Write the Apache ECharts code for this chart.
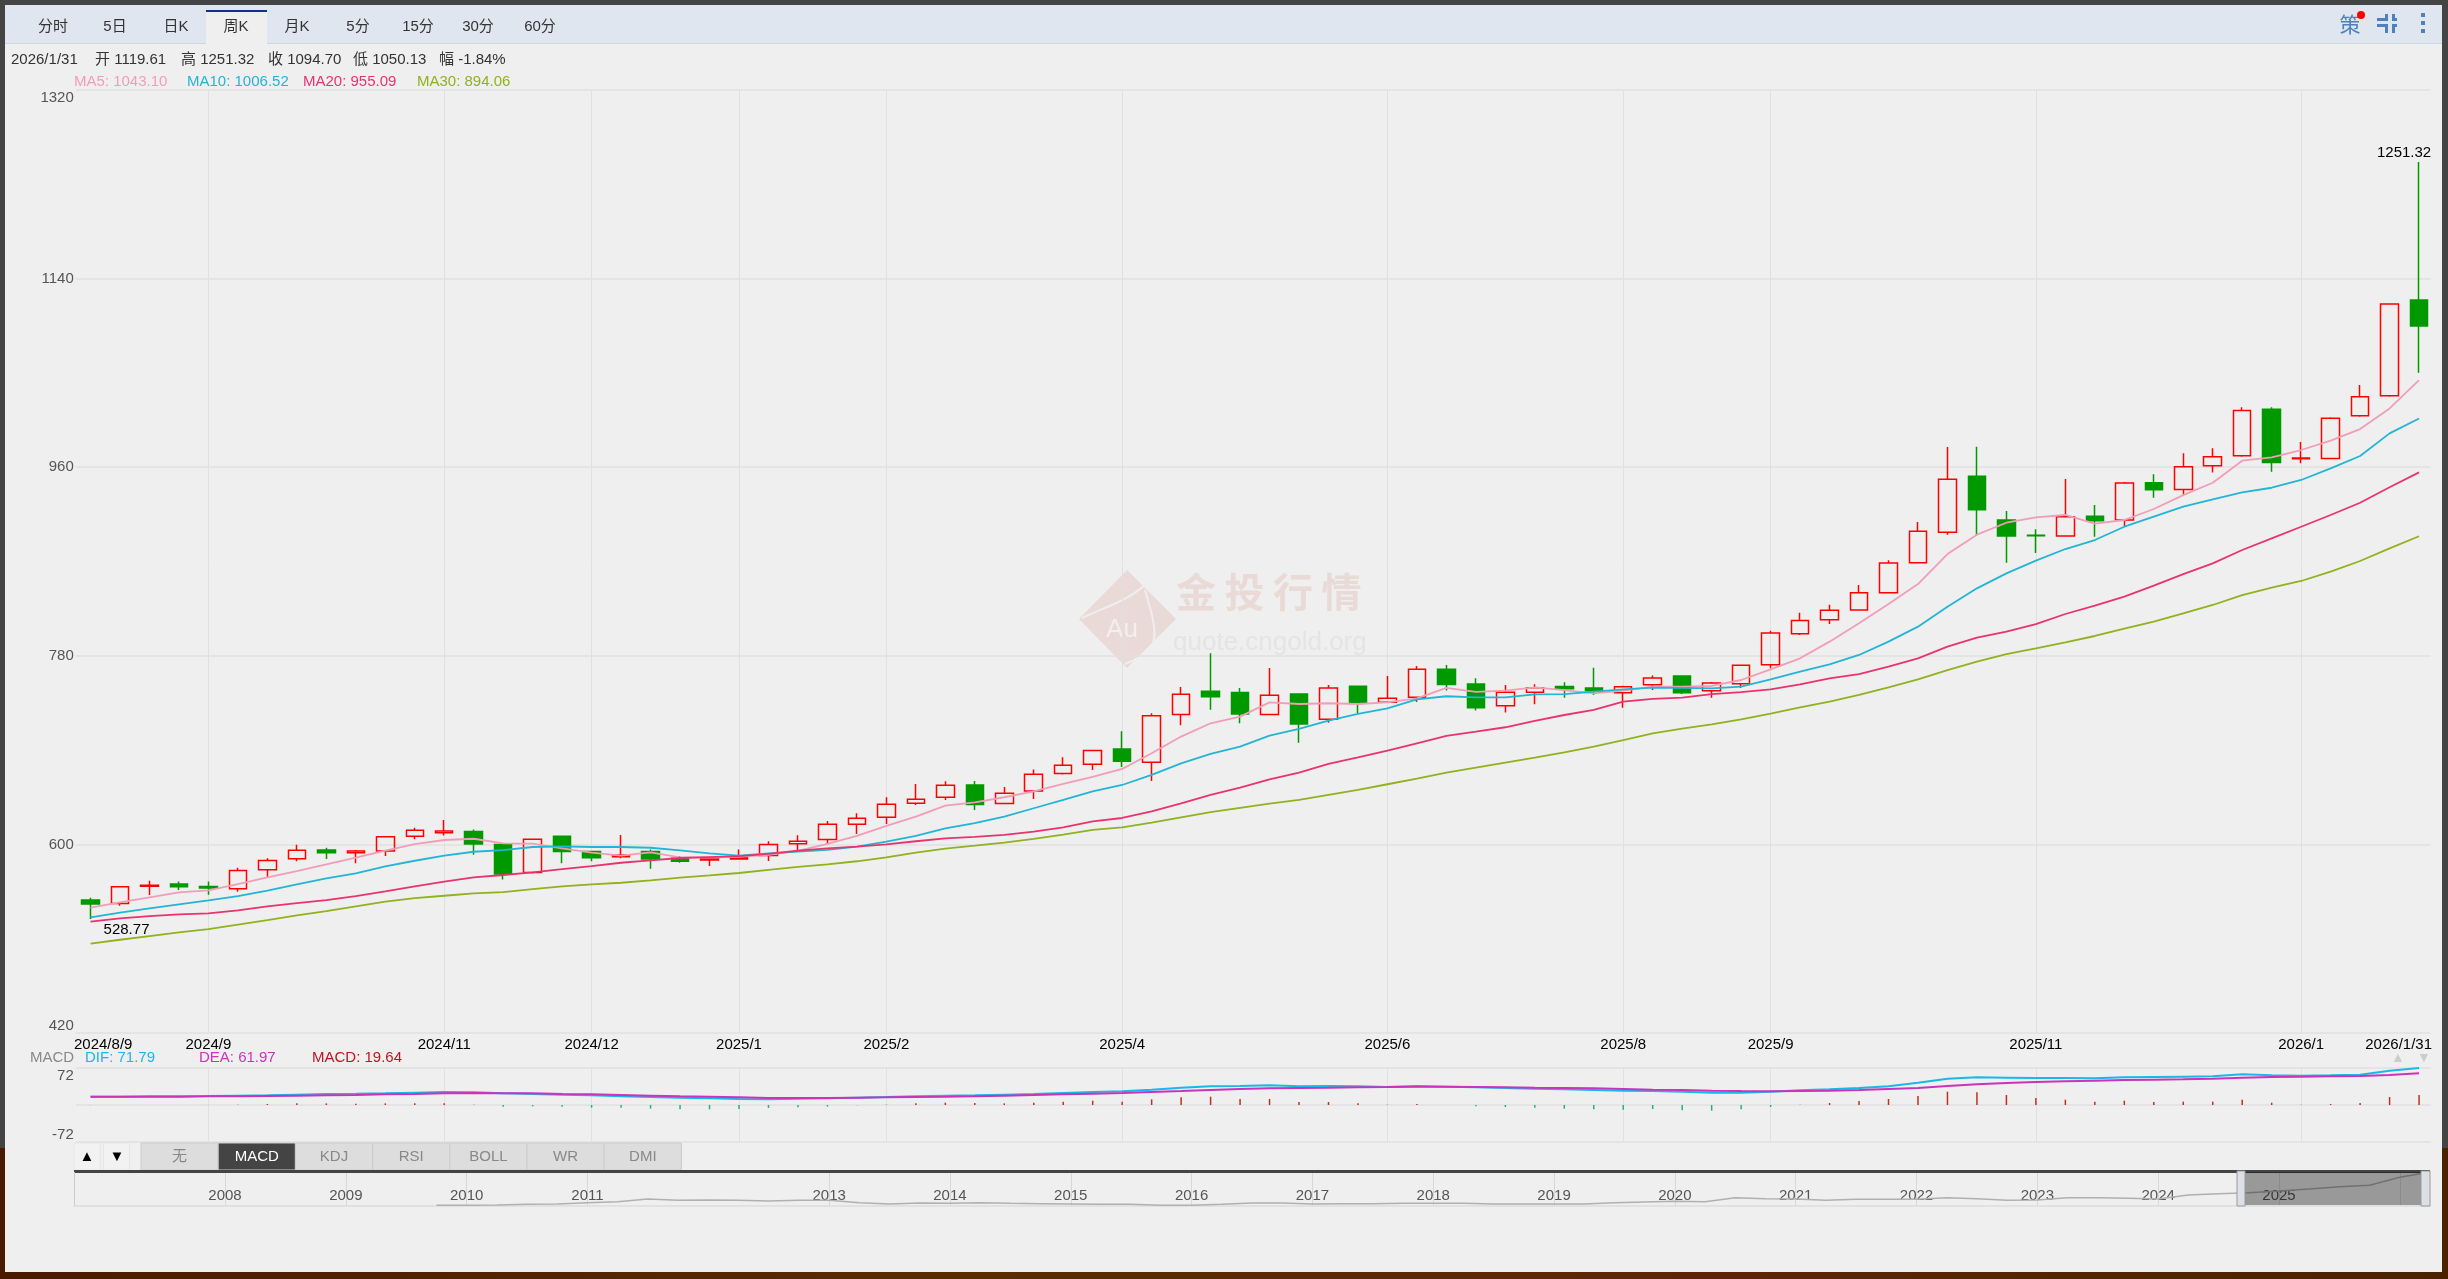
<!DOCTYPE html>
<html>
<head>
<meta charset="utf-8">
<title>周K</title>
<script src="https://cdn.jsdelivr.net/npm/echarts@6/dist/echarts.min.js"></script>
<style>
html, body { margin: 0; padding: 0; background: #444; }
#back { position: absolute; left: 0; top: 1148px; width: 2448px; height: 131px; background: linear-gradient(90deg, #4a1a00, #5a2c02 40%, #5c2606 70%, #4a2200); }
#panel { position: absolute; left: 5px; top: 5px; width: 2437px; height: 1267px; background: #efefef; }
#chart { position: absolute; left: 0; top: 0; width: 2448px; height: 1279px; }
</style>
</head>
<body>
<div id="back"></div>
<div id="panel"></div>
<div id="chart"></div>
<script>
var dates = ['2024/8/9','2024/8/16','2024/8/23','2024/8/30','2024/9/6','2024/9/13','2024/9/20','2024/9/27','2024/10/4','2024/10/11',
  '2024/10/18','2024/10/25','2024/11/1','2024/11/8','2024/11/15','2024/11/22','2024/11/29','2024/12/6','2024/12/13','2024/12/20',
  '2024/12/27','2024/12/31','2025/1/3','2025/1/10','2025/1/17','2025/1/24','2025/1/31','2025/2/7','2025/2/14','2025/2/21',
  '2025/2/28','2025/3/7','2025/3/14','2025/3/21','2025/3/28','2025/4/4','2025/4/11','2025/4/18','2025/4/25','2025/5/2',
  '2025/5/9','2025/5/16','2025/5/23','2025/5/30','2025/6/6','2025/6/13','2025/6/20','2025/6/27','2025/7/4','2025/7/11',
  '2025/7/18','2025/7/25','2025/8/1','2025/8/8','2025/8/15','2025/8/22','2025/8/29','2025/9/5','2025/9/12','2025/9/19',
  '2025/9/26','2025/10/3','2025/10/10','2025/10/17','2025/10/24','2025/10/31','2025/11/7','2025/11/14','2025/11/21','2025/11/28',
  '2025/12/5','2025/12/12','2025/12/19','2025/12/26','2025/12/31','2026/1/2','2026/1/9','2026/1/16','2026/1/23','2026/1/31'];

var opens = [546.9,543.7,560,562.2,559.9,557.7,575.8,586.3,594.6,592.1,
  593.7,607.7,611.2,612.4,600,573.3,607.7,593.3,588.3,593.3,
  586.7,585,586,589.3,600.7,604.6,619.2,625.9,639.2,645,
  656.7,639,651,667.6,676.5,691.1,678.4,723.9,746.1,744.9,
  723.9,743.6,719.4,750.9,735.6,740.4,767.1,753.1,732.4,745.1,
  750.8,749.3,744.8,752.4,760.7,746.7,753.4,771.5,801.1,814.5,
  823.7,840.2,868.9,897.8,951.3,909.6,895,894.3,913.1,909.6,
  945.2,938.8,961.4,971,1015.2,968.1,968.4,1009.1,1028.2,1119.61];
var closes = [543.1,559.6,560.9,559.6,558.3,575.2,584.7,594.3,592.1,593.7,
  607.3,613.4,612.7,600.3,571.7,604.8,593.3,587.3,589.8,586,
  583.8,586,587.6,600,603,619.2,624.9,638.3,643.1,656.4,
  638,648.8,666.9,675.5,689.5,679.3,722.9,743.3,741,724.5,
  742.3,715,749.3,735.3,739.4,767.1,752.5,730.5,745.2,749.6,
  748.6,746.7,750.5,758.8,744.8,754,770.9,801.8,813.8,823.4,
  840.2,868.5,898.8,948.4,919.4,894.3,894.5,912.8,909,944.9,
  938.5,960.5,970,1014.2,964.6,968.8,1006.6,1027.3,1115.7,1094.7];
var lows = [528.77,541.5,551.7,556.4,552,554.8,568.8,583.8,586,581.9,
  588.9,604.8,608.6,590.2,566.6,572.3,581.9,583.8,586.7,576.8,
  582.5,579.3,585.4,584.2,594.1,600.4,610,619.5,637.7,642.4,
  632.9,638.3,643.4,666.6,671.1,673.9,660.6,713.7,728.6,715.6,
  723.2,697.1,716.2,725.1,735,736,746.8,727.7,725.8,733.7,
  740,742.6,730.5,747.4,743.5,740,749.3,768,799.8,810.3,
  823,839.6,868.2,895.6,895,868.9,878.1,893.7,893.7,903.9,
  930.9,933.4,955,970,955.7,963.7,967.8,1008.2,1027.3,1050.13];
var highs = [549.1,560.3,565.3,564.7,564.7,577.8,586.7,599.7,596.8,594.6,
  608,615.9,623.2,614.3,600.3,605.7,607.9,594,608.9,595.2,
  588.9,586.3,595.2,603,608.7,622.4,629.7,645,657.7,660.2,
  660.6,654.8,671.4,683.1,689.8,708,725.1,750.3,782.4,749.3,
  768.4,743.6,752.2,750.9,760.8,770.3,771.3,758.5,752.2,752.8,
  754.7,768.7,751.5,761.3,760.7,755,771.8,804,821.2,828.8,
  847.6,871.1,907.7,979.2,979.6,918.2,900.7,948.7,923.9,945.8,
  953.2,973.2,978,1017.1,1017.1,984,1007.6,1038.4,1116,1251.32];

var ma5 = [539.6,544.7,549.4,554.2,556.1,562.2,568.5,574.6,580.9,587.3,
  594,600.3,604.2,605.4,601,600.7,596.2,592.1,589.2,592.4,
  587.6,587.6,588.2,590,593.8,600.4,608.1,617.6,626.5,637,
  640.2,645,650.7,657.7,664.4,672,687,702.9,715.6,722,
  735.6,734,734.7,734,735.6,739.4,749.3,745.5,746.8,749.9,
  747.3,744.2,746.7,750.5,750.5,751.2,756.9,767.1,777.6,793.5,
  811,829.4,848.5,877.1,895.6,907,912.1,914.4,906.1,909.6,
  920.1,933.4,945.2,966.2,969.4,976.4,985.3,996.4,1016.1,1043.1];
var ma10 = [530.4,534.8,539,542.8,546.6,550.7,555.8,561.8,567.6,572.3,
  579,584.4,589.2,593,594.6,597.5,598.1,597.5,597.5,596.8,
  594.3,591.4,589.2,591.5,593.1,594.7,597.9,602.7,608.1,615.4,
  620.2,626.5,634.5,642.4,650.7,656.7,666.3,677.4,686.3,693.3,
  703.8,710.2,718.1,724.5,729.9,738.5,741.4,740.4,740.4,743.2,
  743.5,745.8,748,749.6,749.3,749,750.5,757.5,764.8,771.8,
  780.8,793.5,807.8,826.9,844.4,858.7,870.8,881.9,890.5,903.2,
  912.8,922.3,929.3,936,940.4,947.8,958.9,970.7,992.3,1006.52];
var ma20 = [526.2,529.4,531.6,533.2,534.2,537,540.9,544,546.9,550.7,
  555.2,560,564.4,568.5,570.8,573.3,576.5,579.3,582.5,584.8,
  587,587.9,588.9,590.9,594,596.3,597.9,600.1,603,605.8,
  607.1,609,612.2,616.3,622,625.2,631.6,639.2,647.2,654.2,
  662.1,668.5,676.8,683.1,689.5,696.5,703.5,707.6,711.8,717.8,
  723.5,728.3,736.2,738.8,740,743.5,745.4,748,752.8,758.5,
  762.6,769.6,777.6,788.7,797.3,803,810.3,819.9,827.8,836.4,
  846.9,858,868.2,881,892.1,903.2,914.4,926.1,940.8,955.09];
var ma30 = [505.2,509,512.5,516,519.2,523.4,527.8,532.3,536.4,540.9,
  545.3,548.8,551,553.3,554.5,557.4,560,561.8,563.4,565.7,
  568.2,570.4,572.7,575.6,578.5,581,583.9,587.7,592.2,596,
  598.8,601.7,605.2,609.3,613.8,616.3,620.8,625.9,630.7,634.8,
  638.9,642.4,647.2,652,657.4,662.8,668.5,673.3,678.1,682.8,
  687.9,693.3,699.6,706,710.4,714.6,719.4,724.8,730.8,736.2,
  742.6,749.9,757.5,766.4,774.4,781.7,787.1,792.8,798.9,805.9,
  812.6,820.5,828.5,838,845,851.4,860.3,870.5,882.5,894.06];

var dif = [16.2,16.2,16.9,16.9,17.5,18.2,18.8,20.1,21.4,22,
  22.7,24,25.3,24.6,22.7,21.4,20.1,18.8,16.9,15.6,
  14.3,13,11.7,11,12.3,13,14.3,15.6,16.9,18.2,
  18.8,20.1,21.4,23.3,25.3,26.6,29.8,33.7,36.3,37,
  38.3,36.3,37,36.3,35,37,35.7,34.4,33.1,31.8,
  30.5,29.2,27.9,27.2,25.9,24,24,25.9,28.5,30.5,
  33.1,36.3,43.5,51.2,53.8,53.2,52.5,52.5,51.9,53.8,
  54.5,55.1,55.8,59.7,57.7,57.1,57.7,59,66.8,71.79];
var dea = [16.2,16.2,16.2,16.2,16.9,16.9,17.5,18.2,18.8,19.5,
  20.8,21.4,22.7,23.3,22.7,22.7,21.4,20.8,19.5,18.2,
  16.9,16.2,14.9,13.6,13.6,13.6,14.3,14.9,15.6,16.2,
  16.9,18.2,19.5,20.8,22,23.3,25.3,27.2,29.2,31.1,
  32.4,33.1,33.7,34.4,35,35.7,35.7,35,34.4,33.7,
  33.1,32.4,31.1,29.8,29.2,27.9,27.2,26.6,27.2,27.9,
  29.2,31.1,33.1,37,40.2,42.8,44.7,46,47.3,48.6,
  49.3,49.9,51.2,53.2,54.5,55.1,55.8,56.4,58.4,61.97];
var macd = [-0.3,0,0,0.1,0.2,0.4,2,3.2,3.2,2.6,
  3.2,3.2,3.2,0.6,-3.2,-2.6,-3.2,-5.2,-5.2,-7.1,
  -8.4,-8.4,-7.8,-5.8,-4.5,-3.2,-0.5,0.6,3.2,4.5,
  3.9,3.2,4.5,6.5,8.4,6.5,11,14.9,16.2,11.7,
  11.7,5.8,5.8,3.2,0.6,1.9,0,-2.6,-3.9,-5.2,
  -7.1,-8.4,-9,-7.8,-10.4,-11,-8.4,-3.9,0.6,3.9,
  7.8,11.7,17.5,25.9,24.6,19.5,13.6,10.4,6.5,8.4,
  5.8,6.5,6.5,10.4,4.5,0.6,1.9,3.9,15.6,19.64];

// month labels under the price chart, by candle index
var monthIndex = [4,12,17,22,27,35,44,52,57,66,75];
var monthLabels = ['2024/9','2024/11','2024/12','2025/1','2025/2','2025/4','2025/6','2025/8','2025/9','2025/11','2026/1'];
var priceTicks = [420,600,780,960,1140,1320];

// overview strip at the bottom, one point a quarter
var overviewDates = ['2006/10','2007/1','2007/4','2007/7','2007/10','2008/1','2008/4','2008/7','2008/10','2009/1','2009/4','2009/7',
  '2009/10','2010/1','2010/4','2010/7','2010/10','2011/1','2011/4','2011/7','2011/10','2012/1','2012/4','2012/7','2012/10',
  '2013/1','2013/4','2013/7','2013/10','2014/1','2014/4','2014/7','2014/10','2015/1','2015/4','2015/7','2015/10',
  '2016/1','2016/4','2016/7','2016/10','2017/1','2017/4','2017/7','2017/10','2018/1','2018/4','2018/7','2018/10',
  '2019/1','2019/4','2019/7','2019/10','2020/1','2020/4','2020/7','2020/10','2021/1','2021/4','2021/7','2021/10',
  '2022/1','2022/4','2022/7','2022/10','2023/1','2023/4','2023/7','2023/10','2024/1','2024/4','2024/7','2024/10',
  '2025/1','2025/4','2025/7','2025/10','2026/1','2026/4'];
var overviewValues = [null,null,null,null,null,null,null,null,null,null,null,null,
  240,240,250,270,280,321,351,432,392,402,392,372,392,
  392,321,281,311,301,321,301,291,281,270,270,240,
  240,270,311,311,281,291,291,301,301,301,281,281,
  281,281,321,341,361,351,472,442,432,392,422,422,
  422,472,442,392,402,472,472,452,432,553,594,624,
  674,735,806,846,1089,1250];
var overviewYears = ['2008','2009','2010','2011','2013','2014','2015','2016','2017','2018','2019','2020','2021','2022','2023','2024','2025'];

var infoText = [
  ['2026/1/31', 11], ['开 1119.61', 95], ['高 1251.32', 181], ['收 1094.70', 268], ['低 1050.13', 353], ['幅 -1.84%', 439]
];
var maText = [
  ['MA5: 1043.10', 74, '#f29db8'], ['MA10: 1006.52', 187, '#22b5d4'], ['MA20: 955.09', 303, '#e8336f'], ['MA30: 894.06', 417, '#8fb21d']
];
var macdText = [
  ['MACD', 30, '#888'], ['DIF: 71.79', 85, '#19b8e6'], ['DEA: 61.97', 199, '#cc33bb'], ['MACD: 19.64', 312, '#c0141e']
];
var tabs = [['分时',53],['5日',115],['日K',176],['周K',236],['月K',297],['5分',358],['15分',418],['30分',478],['60分',540]];
var indicators = ['无','MACD','KDJ','RSI','BOLL','WR','DMI'];

var FONT = '"Liberation Sans", "Noto Sans CJK SC", sans-serif';

function text(str, x, y, color, size, align, z) {
  return { type: 'text', z: z || 5, x: x, y: y, style: { text: str, fill: color, font: (size || 15) + 'px ' + FONT, textAlign: align || 'left', textVerticalAlign: 'middle' } };
}
function rect(x, y, w, h, fill, stroke, z) {
  return { type: 'rect', z: z || 1, shape: { x: x, y: y, width: w, height: h }, style: { fill: fill, stroke: stroke || null, lineWidth: stroke ? 1 : 0 } };
}
function isMonth(i) { return monthIndex.indexOf(i) >= 0; }

var graphics = [];

// tab bar
graphics.push(rect(5, 5, 2437, 38, '#dfe6f0'));
graphics.push(rect(5, 43, 2437, 1, '#cdd6e4'));
graphics.push(rect(206, 10, 61, 34, '#efefef'));
graphics.push(rect(206, 10, 61, 2, '#12308a'));
tabs.forEach(function (t) { graphics.push(text(t[0], t[1], 27, '#333', 15, 'center')); });

// icons on the right of the tab bar
graphics.push(text('策', 2350, 26, '#4f81bd', 21, 'center'));
graphics.push({ type: 'circle', z: 6, shape: { cx: 2361, cy: 15, r: 4 }, style: { fill: '#f00' } });
[[2377,18,11,3],[2385,14,3,7],[2392,18,5,3],[2392,14,3,7],[2377,24,11,3],[2385,24,3,9],[2392,24,5,3],[2392,24,3,9]].forEach(function (r) {
  graphics.push(rect(r[0], r[1], r[2], r[3], '#4f81bd', null, 5));
});
[15,23,31].forEach(function (y) { graphics.push(rect(2421, y - 2, 4, 4, '#4f81bd', null, 5)); });

// info rows
infoText.forEach(function (t) { graphics.push(text(t[0], t[1], 60, '#333', 15)); });
maText.forEach(function (t) { graphics.push(text(t[0], t[1], 82, t[2], 15)); });
macdText.forEach(function (t) { graphics.push(text(t[0], t[1], 1058, t[2], 15)); });
graphics.push(text('▲', 2398, 1058, '#ccc', 14, 'center'));
graphics.push(text('▼', 2424, 1058, '#ccc', 14, 'center'));

// first and last date sit at the ends of the axis
graphics.push(text(dates[0], 74, 1045, '#000', 15));
graphics.push(text(dates[dates.length - 1], 2432, 1045, '#000', 15, 'right'));

// the band axis runs a little past the right end of the grid lines
graphics.push(rect(2430.5, 88, 5, 947, '#efefef', null, 1));
graphics.push(rect(2430.5, 1066, 5, 78, '#efefef', null, 1));

// watermark
graphics.push({ type: 'polygon', z: -1, shape: { points: [[1127,570],[1176,619],[1127,668],[1079,619]] }, style: { fill: '#e9dad7' } });
graphics.push({ type: 'bezierCurve', z: -1, shape: { x1: 1082, y1: 618, cpx1: 1110, cpy1: 605, x2: 1148, y2: 582 , cpx2: 1130, cpy2: 600 }, style: { stroke: '#efefef', fill: 'none', lineWidth: 2 } });
graphics.push({ type: 'bezierCurve', z: -1, shape: { x1: 1145, y1: 590, cpx1: 1160, cpy1: 640, x2: 1125, y2: 664, cpx2: 1160, cpy2: 650 }, style: { stroke: '#efefef', fill: 'none', lineWidth: 2 } });
graphics.push(text('Au', 1122, 630, '#f4eeec', 26, 'center', -1));
['金','投','行','情'].forEach(function (c, i) {
  graphics.push({ type: 'text', z: -1, x: 1196 + i * 48.5, y: 592, style: { text: c, fill: '#e9dad7', font: 'bold 40px "Noto Sans CJK SC"', textAlign: 'center', textVerticalAlign: 'middle' } });
});
graphics.push(text('quote.cngold.org', 1173, 643, '#e4e4e4', 26, 'left', -1));

// arrows and indicator buttons
graphics.push(rect(74, 1143, 26, 27, '#f2f2f2', '#e6e6e6'));
graphics.push(rect(103.5, 1143, 26, 27, '#f2f2f2', '#e6e6e6'));
graphics.push(text('▲', 87, 1157, '#000', 15, 'center'));
graphics.push(text('▼', 117, 1157, '#000', 15, 'center'));
indicators.forEach(function (name, i) {
  var x = 141 + i * 77.2;
  graphics.push(rect(x, 1143, 77.2, 27, name === 'MACD' ? '#444' : '#ddd', '#ccc'));
  graphics.push(text(name, x + 38.6, 1157, name === 'MACD' ? '#fff' : '#888', 15, 'center'));
});

// overview frame and the window on it
graphics.push(rect(74, 1170, 2356, 3, '#444', null, 5));
graphics.push(rect(74, 1172, 1, 34, '#ccc', null, 5));
graphics.push(rect(2244, 1172, 177, 33, 'rgba(0,0,0,0.36)', null, 100));
graphics.push(rect(2237, 1171, 8, 35, '#dcdfe6', '#999', 101));
graphics.push(rect(2421, 1171, 9, 35, '#dcdfe6', '#999', 101));

var chartDom = document.getElementById('chart');
var myChart = echarts.init(chartDom);
var option;

option = {
  animation: false,
  textStyle: { fontFamily: FONT },
  graphic: { elements: graphics },
  grid: [
    { left: 75.8, width: 2358, top: 90, height: 943 },
    { left: 75.8, width: 2358, top: 1068, height: 74 },
    { left: 74, width: 2356, top: 1172, height: 34 }
  ],
  xAxis: [
    {
      type: 'category', gridIndex: 0, data: dates,
      axisLine: { show: false }, axisTick: { show: false },
      axisLabel: {
        color: '#000', fontSize: 15, margin: 4,
        interval: function (i) { return isMonth(i); },
        formatter: function (v, i) { return monthLabels[monthIndex.indexOf(i)] || ''; }
      },
      splitLine: { show: true, interval: function (i) { return isMonth(i); }, alignWithLabel: true, lineStyle: { color: '#e0e0e0', width: 1 } }
    },
    {
      type: 'category', gridIndex: 1, data: dates,
      axisLine: { show: false }, axisTick: { show: false }, axisLabel: { show: false },
      splitLine: { show: true, interval: function (i) { return isMonth(i); }, alignWithLabel: true, lineStyle: { color: '#e0e0e0', width: 1 } }
    },
    {
      type: 'category', gridIndex: 2, data: overviewDates, boundaryGap: false,
      axisLine: { show: true, lineStyle: { color: '#ddd', width: 1.5 } }, axisTick: { show: false },
      axisLabel: {
        inside: true, color: '#555', fontSize: 15, margin: 3,
        interval: function (i, v) { return overviewYears.indexOf(v.split('/')[0]) >= 0 && v.split('/')[1] === '1'; },
        formatter: function (v) { return v.split('/')[0]; }
      },
      splitLine: { show: true, interval: function (i, v) { return v.split('/')[1] === '1' && v !== '2007/1' && v !== '2012/1'; }, lineStyle: { color: '#d8d8d8' } }
    }
  ],
  yAxis: [
    {
      type: 'value', gridIndex: 0, min: 420, max: 1320, position: 'left',
      axisLine: { show: false },
      axisTick: { show: false, customValues: priceTicks },
      axisLabel: { color: '#555', fontSize: 15, margin: 2, customValues: priceTicks, verticalAlignMinLabel: 'bottom', verticalAlignMaxLabel: 'top', formatter: function (v) { return String(v); } },
      splitLine: { show: true, lineStyle: { color: '#e0e0e0', width: 1.5 } }
    },
    {
      type: 'value', gridIndex: 1, min: -72, max: 72, interval: 72,
      axisLine: { show: false }, axisTick: { show: false },
      axisLabel: { color: '#555', fontSize: 15, margin: 2, verticalAlignMinLabel: 'bottom', verticalAlignMaxLabel: 'top', formatter: function (v) { return v === 0 ? '' : v; } },
      splitLine: { show: true, lineStyle: { color: '#e0e0e0', width: 1.5 } }
    },
    {
      type: 'value', gridIndex: 2, min: 220, max: 1250,
      axisLine: { show: false }, axisTick: { show: false }, axisLabel: { show: false }, splitLine: { show: false }
    }
  ],
  series: [
    {
      name: 'K', type: 'candlestick', xAxisIndex: 0, yAxisIndex: 0, barWidth: 18,
      data: dates.map(function (d, i) { return [opens[i], closes[i], lows[i], highs[i]]; }),
      itemStyle: { color: 'transparent', color0: '#090', borderColor: '#f00', borderColor0: '#090', borderWidth: 1.5 },
      markPoint: {
        symbol: 'circle', symbolSize: 0, silent: true,
        data: [
          { coord: [79, highs[79]], value: highs[79].toFixed(2), label: { show: true, position: 'top', color: '#000', fontSize: 15, offset: [-15, 3] } },
          { coord: [0, lows[0]], value: lows[0].toFixed(2), label: { show: true, position: 'bottom', color: '#000', fontSize: 15, offset: [36, -2] } }
        ]
      }
    },
    { name: 'MA5', type: 'line', xAxisIndex: 0, yAxisIndex: 0, data: ma5, showSymbol: false, lineStyle: { color: '#f29db8', width: 1.8 } },
    { name: 'MA10', type: 'line', xAxisIndex: 0, yAxisIndex: 0, data: ma10, showSymbol: false, lineStyle: { color: '#22b5d4', width: 1.8 } },
    { name: 'MA20', type: 'line', xAxisIndex: 0, yAxisIndex: 0, data: ma20, showSymbol: false, lineStyle: { color: '#e8336f', width: 1.8 } },
    { name: 'MA30', type: 'line', xAxisIndex: 0, yAxisIndex: 0, data: ma30, showSymbol: false, lineStyle: { color: '#8fb21d', width: 1.8 } },
    {
      name: 'MACD', type: 'bar', xAxisIndex: 1, yAxisIndex: 1, barWidth: 1.5,
      data: macd,
      itemStyle: { color: function (p) { return p.value >= 0 ? '#c0301e' : '#1db38a'; } }
    },
    { name: 'DIF', type: 'line', xAxisIndex: 1, yAxisIndex: 1, data: dif, showSymbol: false, lineStyle: { color: '#19b8e6', width: 2 } },
    { name: 'DEA', type: 'line', xAxisIndex: 1, yAxisIndex: 1, data: dea, showSymbol: false, lineStyle: { color: '#cc33bb', width: 2 } },
    { name: 'overview', type: 'line', xAxisIndex: 2, yAxisIndex: 2, data: overviewValues, showSymbol: false, connectNulls: false, lineStyle: { color: '#b0b0b0', width: 1.5 } }
  ]
};

option && myChart.setOption(option);
</script>
</body>
</html>
